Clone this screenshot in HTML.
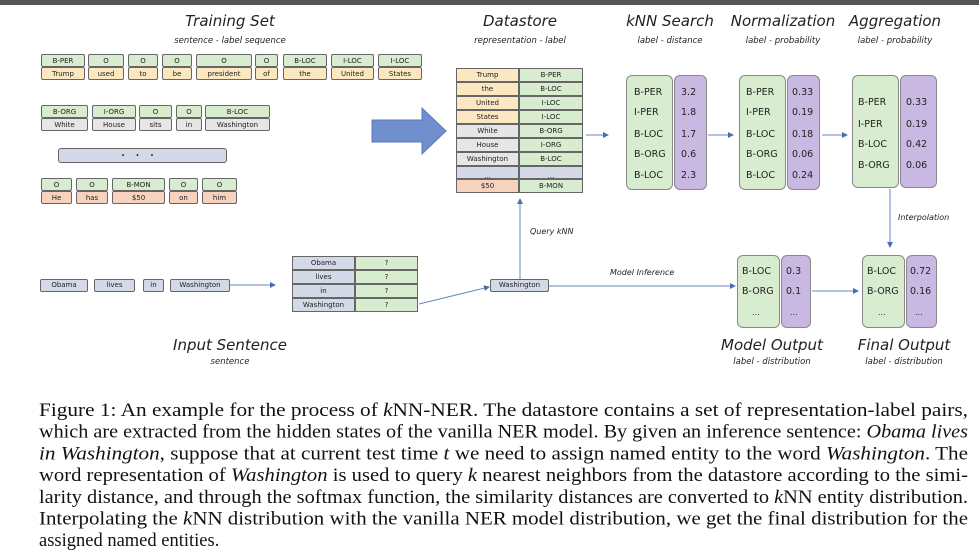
<!DOCTYPE html>
<html><head><meta charset="utf-8"><style>
body{margin:0;width:979px;height:560px;background:#fff;position:relative;overflow:hidden;font-family:"DejaVu Sans","Liberation Sans",sans-serif;}
.a{position:absolute;box-sizing:border-box;}
.t{position:absolute;font-style:italic;color:#222;text-align:center;white-space:nowrap;}
.tok{position:absolute;box-sizing:border-box;}
.tok div{box-sizing:border-box;border:1px solid #666;border-radius:2px;font-size:7px;text-align:center;height:13px;line-height:12px;color:#222;}
.tok .l{background:#d8ecd0;}
.y{background:#fbe8c0;}.g{background:#e6e6e6;}.s{background:#f7d2bf;}
.cell{position:absolute;box-sizing:border-box;border:1px solid #666;font-size:7px;text-align:center;color:#222;}
.gb{position:absolute;box-sizing:border-box;background:#d8ecd0;border:1px solid #888;border-radius:6px;}
.pb{position:absolute;box-sizing:border-box;background:#c9b9e2;border:1px solid #888;border-radius:6px;}
.v{position:absolute;font-size:9.5px;color:#222;white-space:nowrap;}
</style></head><body>
<div class="a" style="left:0;top:0;width:979px;height:5px;background:#555"></div>

<div class="t" style="left:130px;top:12px;width:200px;font-size:15px">Training Set</div>
<div class="t" style="left:130px;top:36px;width:200px;font-size:8.5px">sentence - label sequence</div>

<div class="tok" style="left:41px;top:54px;width:44px"><div class="l">B-PER</div><div class="y">Trump</div></div>
<div class="tok" style="left:88px;top:54px;width:36px"><div class="l">O</div><div class="y">used</div></div>
<div class="tok" style="left:128px;top:54px;width:30px"><div class="l">O</div><div class="y">to</div></div>
<div class="tok" style="left:162px;top:54px;width:30px"><div class="l">O</div><div class="y">be</div></div>
<div class="tok" style="left:196px;top:54px;width:56px"><div class="l">O</div><div class="y">president</div></div>
<div class="tok" style="left:255px;top:54px;width:23px"><div class="l">O</div><div class="y">of</div></div>
<div class="tok" style="left:283px;top:54px;width:44px"><div class="l">B-LOC</div><div class="y">the</div></div>
<div class="tok" style="left:331px;top:54px;width:43px"><div class="l">I-LOC</div><div class="y">United</div></div>
<div class="tok" style="left:378px;top:54px;width:44px"><div class="l">I-LOC</div><div class="y">States</div></div>

<div class="tok" style="left:41px;top:105px;width:47px"><div class="l">B-ORG</div><div class="g">White</div></div>
<div class="tok" style="left:92px;top:105px;width:44px"><div class="l">I-ORG</div><div class="g">House</div></div>
<div class="tok" style="left:139px;top:105px;width:33px"><div class="l">O</div><div class="g">sits</div></div>
<div class="tok" style="left:176px;top:105px;width:26px"><div class="l">O</div><div class="g">in</div></div>
<div class="tok" style="left:205px;top:105px;width:65px"><div class="l">B-LOC</div><div class="g">Washington</div></div>

<div class="a" style="left:58px;top:148px;width:169px;height:15px;background:#d3d9e6;border:1px solid #666;border-radius:3px;text-align:center;font-size:14px;line-height:6px;letter-spacing:10px;color:#111">...</div>

<div class="tok" style="left:41px;top:178px;width:31px"><div class="l">O</div><div class="s">He</div></div>
<div class="tok" style="left:76px;top:178px;width:32px"><div class="l">O</div><div class="s">has</div></div>
<div class="tok" style="left:112px;top:178px;width:53px"><div class="l">B-MON</div><div class="s">$50</div></div>
<div class="tok" style="left:169px;top:178px;width:29px"><div class="l">O</div><div class="s">on</div></div>
<div class="tok" style="left:202px;top:178px;width:35px"><div class="l">O</div><div class="s">him</div></div>

<svg class="a" style="left:0;top:0" width="979" height="380">
<defs><marker id="ar" markerWidth="6" markerHeight="6" refX="5" refY="3" orient="auto"><path d="M0,0 L6,3 L0,6 z" fill="#4a6fb0"/></marker></defs>
<path d="M372,120 L422,120 L422,108 L446,131 L422,154 L422,142 L372,142 z" fill="#6f8fcf" stroke="#5a78b8"/>
<g stroke="#6a85c0" stroke-width="1" fill="none" marker-end="url(#ar)">
<line x1="586" y1="135" x2="608" y2="135"/>
<line x1="708" y1="135" x2="733" y2="135"/>
<line x1="822" y1="135" x2="847" y2="135"/>
<line x1="230" y1="285" x2="275" y2="285"/>
<line x1="419" y1="304" x2="489" y2="287"/>
<line x1="520" y1="279" x2="520" y2="199"/>
<line x1="549" y1="286" x2="735" y2="286"/>
<line x1="812" y1="291" x2="858" y2="291"/>
<line x1="890" y1="189" x2="890" y2="247"/>
</g>
</svg>

<div class="t" style="left:460px;top:12px;width:120px;font-size:15px">Datastore</div>
<div class="t" style="left:450px;top:36px;width:140px;font-size:8.5px">representation - label</div>
<div class="t" style="left:610px;top:12px;width:120px;font-size:15px">kNN Search</div>
<div class="t" style="left:610px;top:36px;width:120px;font-size:8.5px">label - distance</div>
<div class="t" style="left:723px;top:12px;width:120px;font-size:15px">Normalization</div>
<div class="t" style="left:723px;top:36px;width:120px;font-size:8.5px">label - probability</div>
<div class="t" style="left:835px;top:12px;width:120px;font-size:15px">Aggregation</div>
<div class="t" style="left:835px;top:36px;width:120px;font-size:8.5px">label - probability</div>

<div class="cell y" style="left:456px;top:68px;width:63px;height:14px;line-height:12px">Trump</div>
<div class="cell y" style="left:456px;top:82px;width:63px;height:14px;line-height:12px">the</div>
<div class="cell y" style="left:456px;top:96px;width:63px;height:14px;line-height:12px">United</div>
<div class="cell y" style="left:456px;top:110px;width:63px;height:14px;line-height:12px">States</div>
<div class="cell g" style="left:456px;top:124px;width:63px;height:14px;line-height:12px">White</div>
<div class="cell g" style="left:456px;top:138px;width:63px;height:14px;line-height:12px">House</div>
<div class="cell g" style="left:456px;top:152px;width:63px;height:14px;line-height:12px">Washington</div>
<div class="cell" style="left:456px;top:166px;width:63px;height:13px;line-height:18px;background:#d3d9e6">...</div>
<div class="cell s" style="left:456px;top:179px;width:63px;height:14px;line-height:12px">$50</div>
<div class="cell" style="left:519px;top:68px;width:64px;height:14px;line-height:12px;background:#d8ecd0">B-PER</div>
<div class="cell" style="left:519px;top:82px;width:64px;height:14px;line-height:12px;background:#d8ecd0">B-LOC</div>
<div class="cell" style="left:519px;top:96px;width:64px;height:14px;line-height:12px;background:#d8ecd0">I-LOC</div>
<div class="cell" style="left:519px;top:110px;width:64px;height:14px;line-height:12px;background:#d8ecd0">I-LOC</div>
<div class="cell" style="left:519px;top:124px;width:64px;height:14px;line-height:12px;background:#d8ecd0">B-ORG</div>
<div class="cell" style="left:519px;top:138px;width:64px;height:14px;line-height:12px;background:#d8ecd0">I-ORG</div>
<div class="cell" style="left:519px;top:152px;width:64px;height:14px;line-height:12px;background:#d8ecd0">B-LOC</div>
<div class="cell" style="left:519px;top:166px;width:64px;height:13px;line-height:18px;background:#d3d9e6">...</div>
<div class="cell" style="left:519px;top:179px;width:64px;height:14px;line-height:12px;background:#d8ecd0">B-MON</div>

<div class="gb" style="left:626px;top:75px;width:47px;height:115px"></div>
<div class="pb" style="left:674px;top:75px;width:33px;height:115px"></div>
<div class="v" style="left:634px;top:87px">B-PER</div><div class="v" style="left:681px;top:87px">3.2</div>
<div class="v" style="left:634px;top:107px">I-PER</div><div class="v" style="left:681px;top:107px">1.8</div>
<div class="v" style="left:634px;top:129px">B-LOC</div><div class="v" style="left:681px;top:129px">1.7</div>
<div class="v" style="left:634px;top:149px">B-ORG</div><div class="v" style="left:681px;top:149px">0.6</div>
<div class="v" style="left:634px;top:170px">B-LOC</div><div class="v" style="left:681px;top:170px">2.3</div>

<div class="gb" style="left:739px;top:75px;width:47px;height:115px"></div>
<div class="pb" style="left:787px;top:75px;width:33px;height:115px"></div>
<div class="v" style="left:746px;top:87px">B-PER</div><div class="v" style="left:792px;top:87px">0.33</div>
<div class="v" style="left:746px;top:107px">I-PER</div><div class="v" style="left:792px;top:107px">0.19</div>
<div class="v" style="left:746px;top:129px">B-LOC</div><div class="v" style="left:792px;top:129px">0.18</div>
<div class="v" style="left:746px;top:149px">B-ORG</div><div class="v" style="left:792px;top:149px">0.06</div>
<div class="v" style="left:746px;top:170px">B-LOC</div><div class="v" style="left:792px;top:170px">0.24</div>

<div class="gb" style="left:852px;top:75px;width:47px;height:113px"></div>
<div class="pb" style="left:900px;top:75px;width:37px;height:113px"></div>
<div class="v" style="left:858px;top:97px">B-PER</div><div class="v" style="left:906px;top:97px">0.33</div>
<div class="v" style="left:858px;top:119px">I-PER</div><div class="v" style="left:906px;top:119px">0.19</div>
<div class="v" style="left:858px;top:139px">B-LOC</div><div class="v" style="left:906px;top:139px">0.42</div>
<div class="v" style="left:858px;top:160px">B-ORG</div><div class="v" style="left:906px;top:160px">0.06</div>

<div class="t" style="left:898px;top:213px;font-size:8px">Interpolation</div>
<div class="t" style="left:530px;top:227px;font-size:8px">Query kNN</div>
<div class="t" style="left:610px;top:268px;font-size:8px">Model Inference</div>

<div class="cell" style="left:40px;top:279px;width:48px;height:13px;line-height:11px;background:#d3d9e6;border-radius:2px">Obama</div>
<div class="cell" style="left:94px;top:279px;width:41px;height:13px;line-height:11px;background:#d3d9e6;border-radius:2px">lives</div>
<div class="cell" style="left:143px;top:279px;width:21px;height:13px;line-height:11px;background:#d3d9e6;border-radius:2px">in</div>
<div class="cell" style="left:170px;top:279px;width:60px;height:13px;line-height:11px;background:#d3d9e6;border-radius:2px">Washington</div>

<div class="cell" style="left:292px;top:256px;width:63px;height:14px;line-height:12px;background:#d3d9e6">Obama</div>
<div class="cell" style="left:292px;top:270px;width:63px;height:14px;line-height:12px;background:#d3d9e6">lives</div>
<div class="cell" style="left:292px;top:284px;width:63px;height:14px;line-height:12px;background:#d3d9e6">in</div>
<div class="cell" style="left:292px;top:298px;width:63px;height:14px;line-height:12px;background:#d3d9e6">Washington</div>
<div class="cell" style="left:355px;top:256px;width:63px;height:14px;line-height:12px;background:#d8ecd0">?</div>
<div class="cell" style="left:355px;top:270px;width:63px;height:14px;line-height:12px;background:#d8ecd0">?</div>
<div class="cell" style="left:355px;top:284px;width:63px;height:14px;line-height:12px;background:#d8ecd0">?</div>
<div class="cell" style="left:355px;top:298px;width:63px;height:14px;line-height:12px;background:#d8ecd0">?</div>

<div class="cell" style="left:490px;top:279px;width:59px;height:13px;line-height:11px;background:#d3d9e6;border-radius:2px">Washington</div>

<div class="gb" style="left:737px;top:255px;width:43px;height:73px"></div>
<div class="pb" style="left:781px;top:255px;width:30px;height:73px"></div>
<div class="v" style="left:742px;top:266px">B-LOC</div><div class="v" style="left:786px;top:266px">0.3</div>
<div class="v" style="left:742px;top:286px">B-ORG</div><div class="v" style="left:786px;top:286px">0.1</div>
<div class="v" style="left:752px;top:308px;font-size:8px">...</div><div class="v" style="left:790px;top:308px;font-size:8px">...</div>

<div class="gb" style="left:862px;top:255px;width:43px;height:73px"></div>
<div class="pb" style="left:906px;top:255px;width:31px;height:73px"></div>
<div class="v" style="left:867px;top:266px">B-LOC</div><div class="v" style="left:910px;top:266px">0.72</div>
<div class="v" style="left:867px;top:286px">B-ORG</div><div class="v" style="left:910px;top:286px">0.16</div>
<div class="v" style="left:878px;top:308px;font-size:8px">...</div><div class="v" style="left:915px;top:308px;font-size:8px">...</div>

<div class="t" style="left:130px;top:336px;width:200px;font-size:15px">Input Sentence</div>
<div class="t" style="left:130px;top:357px;width:200px;font-size:8.5px">sentence</div>
<div class="t" style="left:712px;top:336px;width:120px;font-size:15px">Model Output</div>
<div class="t" style="left:712px;top:357px;width:120px;font-size:8.5px">label - distribution</div>
<div class="t" style="left:844px;top:336px;width:120px;font-size:15px">Final Output</div>
<div class="t" style="left:844px;top:357px;width:120px;font-size:8.5px">label - distribution</div>

<svg class="a" style="left:0;top:380px" width="979" height="180" font-family="Liberation Serif, serif" font-size="18.5" fill="#111">
<text x="39" y="36" textLength="929" lengthAdjust="spacingAndGlyphs">Figure 1: An example for the process of <tspan font-style="italic">k</tspan>NN-NER. The datastore contains a set of representation-label pairs,</text>
<text x="39" y="57.7" textLength="929" lengthAdjust="spacingAndGlyphs">which are extracted from the hidden states of the vanilla NER model. By given an inference sentence: <tspan font-style="italic">Obama lives</tspan></text>
<text x="39" y="79.4" textLength="929" lengthAdjust="spacingAndGlyphs"><tspan font-style="italic">in Washington</tspan>, suppose that at current test time <tspan font-style="italic">t</tspan> we need to assign named entity to the word <tspan font-style="italic">Washington</tspan>. The</text>
<text x="39" y="101.1" textLength="929" lengthAdjust="spacingAndGlyphs">word representation of <tspan font-style="italic">Washington</tspan> is used to query <tspan font-style="italic">k</tspan> nearest neighbors from the datastore according to the simi-</text>
<text x="39" y="122.8" textLength="929" lengthAdjust="spacingAndGlyphs">larity distance, and through the softmax function, the similarity distances are converted to <tspan font-style="italic">k</tspan>NN entity distribution.</text>
<text x="39" y="144.5" textLength="929" lengthAdjust="spacingAndGlyphs">Interpolating the <tspan font-style="italic">k</tspan>NN distribution with the vanilla NER model distribution, we get the final distribution for the</text>
<text x="39" y="166.2">assigned named entities.</text>
</svg>
</body></html>
